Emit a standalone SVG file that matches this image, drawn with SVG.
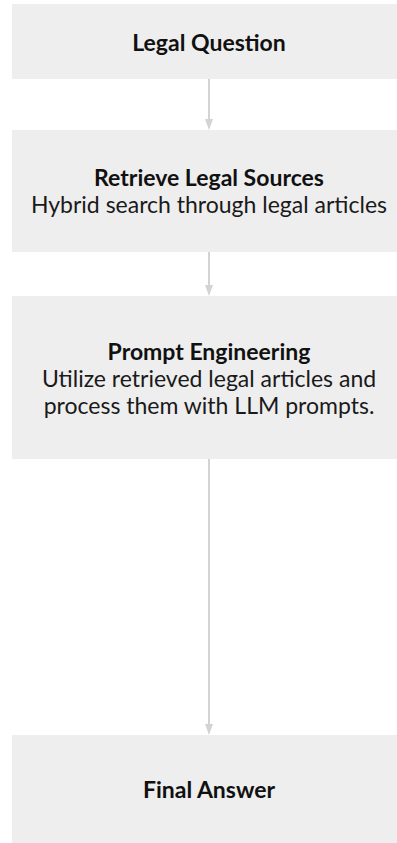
<svg xmlns="http://www.w3.org/2000/svg" width="397" height="843" viewBox="0 0 397 843">
  <style>
    .box { fill: #eeeeee; }
    .title { font-family: Lato, "Open Sans", sans-serif; font-weight: 700; font-size: 23px; fill: #111111; text-anchor: middle; }
    .desc { font-family: Lato, "Open Sans", sans-serif; font-weight: 400; font-size: 23px; fill: #1a1a1a; text-anchor: middle; }
    .edge { stroke: #d3d3d3; stroke-width: 2; fill: none; }
  </style>
  <defs>
    <marker id="arrow" markerUnits="userSpaceOnUse" markerWidth="12" markerHeight="10" viewBox="0 0 12 10" refX="0" refY="5" orient="auto" overflow="visible">
      <path d="M0,1 L11,5 L0,9 Z" fill="#d3d3d3"/>
    </marker>
  </defs>
  <rect width="397" height="843" fill="#ffffff"/>
  <g id="connectors">
    <line class="edge" x1="209" y1="79" x2="209" y2="119" marker-end="url(#arrow)"/>
    <line class="edge" x1="209" y1="252" x2="209" y2="285" marker-end="url(#arrow)"/>
    <line class="edge" x1="209" y1="459" x2="209" y2="724" marker-end="url(#arrow)"/>
  </g>
  <g id="legal-question">
    <rect class="box" x="12" y="4" width="394" height="75"/>
    <text class="title" x="209" y="51">Legal Question</text>
  </g>
  <g id="retrieve-legal-sources">
    <rect class="box" x="12" y="130" width="394" height="122"/>
    <text class="title" x="209" y="186">Retrieve Legal Sources</text>
    <text class="desc" x="209" y="213">Hybrid search through legal articles</text>
  </g>
  <g id="prompt-engineering">
    <rect class="box" x="12" y="296" width="394" height="163"/>
    <text class="title" x="209" y="360">Prompt Engineering</text>
    <text class="desc" x="209" y="387">Utilize retrieved legal articles and</text>
    <text class="desc" x="209" y="414">process them with LLM prompts.</text>
  </g>
  <g id="final-answer">
    <rect class="box" x="12" y="735" width="394" height="120"/>
    <text class="title" x="209" y="798">Final Answer</text>
  </g>
</svg>
